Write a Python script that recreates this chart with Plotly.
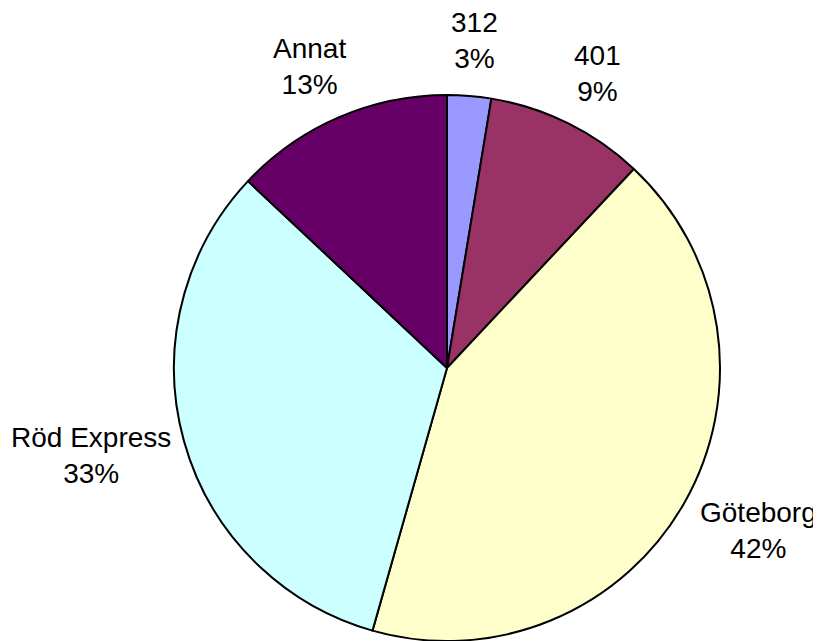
import math
import plotly.graph_objects as go

labels = ["312", "401", "Göteborg", "Röd Express", "Annat"]
values = [2.6, 9.4, 42.4, 32.6, 13.0]
colors = ["#9999FF", "#993366", "#FFFFCC", "#CCFFFF", "#660066"]

# figure size (page body adds 8px margin, so shrink to fit the window)
W, H = 813, 633
L, R, T, B = 166, 101, 87, 0
FONT_SIZE = 28

fig = go.Figure()
fig.add_trace(go.Pie(
    labels=labels,
    values=values,
    sort=False,
    direction="clockwise",
    rotation=0,
    marker=dict(colors=colors, line=dict(color="black", width=2)),
    textinfo="none",
    hoverinfo="label+percent",
    showlegend=False,
))

# outside labels placed from each slice's mid angle (Excel style, no leader lines)
pw, ph = W - L - R, H - T - B
cx, cy = L + pw / 2, T + ph / 2
rad = min(pw, ph) / 2
dist = rad + 56
total = sum(values)
cum = 0
for lab, v in zip(labels, values):
    mid = (cum + v / 2) / total * 2 * math.pi
    cum += v
    s, c = math.sin(mid), math.cos(mid)
    hw = 0.52 * FONT_SIZE * len(lab) / 2  # rough half width of the text
    px = cx + dist * s + 0.5 * hw * s
    py = cy - dist * c
    pct = round(v / total * 100)
    fig.add_annotation(
        xref="paper", yref="paper",
        x=(px - L) / pw, y=1 - (py - T) / ph,
        xanchor="center", yanchor="middle",
        text=f"{lab}<br>{pct}%",
        showarrow=False,
        align="center",
        font=dict(family="Liberation Sans, Arial, sans-serif", size=FONT_SIZE, color="black"),
    )

fig.update_layout(
    width=W, height=H,
    margin=dict(l=L, r=R, t=T, b=B),
    paper_bgcolor="white",
    plot_bgcolor="white",
)

fig.write_html("out.html")
